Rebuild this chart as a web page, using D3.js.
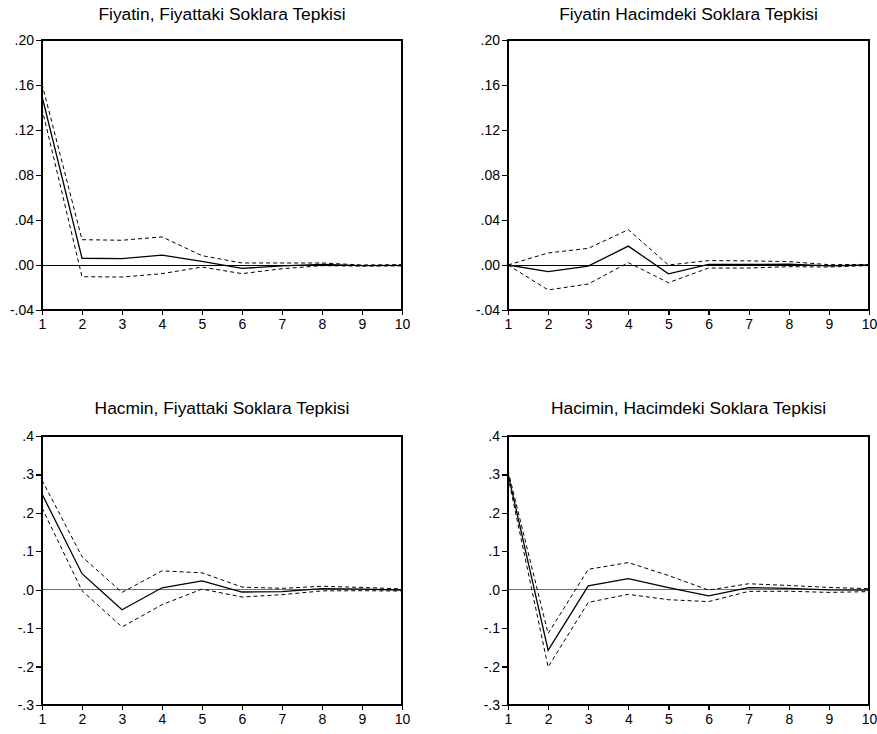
<!DOCTYPE html>
<html>
<head>
<meta charset="utf-8">
<script src="https://cdn.jsdelivr.net/npm/d3@7/dist/d3.min.js"></script>
<style>
  html, body { margin: 0; padding: 0; background: #fff; }
  svg { display: block; }
  text { font-family: "Liberation Sans", Arial, Helvetica, sans-serif; fill: #000; }
</style>
</head>
<body>
<svg id="chart" width="877" height="734"></svg>
<script>
// Impulse response periods
const periods = [1, 2, 3, 4, 5, 6, 7, 8, 9, 10];

// Panel titles
const titles = [
  "Fiyatin, Fiyattaki Soklara Tepkisi",
  "Fiyatin Hacimdeki Soklara Tepkisi",
  "Hacmin, Fiyattaki Soklara Tepkisi",
  "Hacimin, Hacimdeki Soklara Tepkisi"
];

// Price response to price shocks: response, upper and lower bands
const p1Resp  = [0.150, 0.0060, 0.0057, 0.0087, 0.0033, -0.0030, -0.0008, 0.0006, -0.0005, -0.0003];
const p1Upper = [0.161, 0.0225, 0.0220, 0.0250, 0.0083, 0.0018, 0.0018, 0.0018, 0.0000, 0.0003];
const p1Lower = [0.139, -0.0104, -0.0107, -0.0077, -0.0018, -0.0077, -0.0033, -0.0006, -0.0010, -0.0008];

// Price response to volume shocks
const p2Resp  = [0, -0.0058, -0.0010, 0.0168, -0.0079, 0.0006, 0.0005, 0.0008, -0.0008, 0.0000];
const p2Upper = [0, 0.0107, 0.0148, 0.0314, 0.0000, 0.0039, 0.0037, 0.0030, 0.0003, 0.0005];
const p2Lower = [0, -0.0222, -0.0169, 0.0021, -0.0157, -0.0027, -0.0027, -0.0015, -0.0018, -0.0005];

// Volume response to price shocks
const p3Resp  = [0.249, 0.0417, -0.0520, 0.0050, 0.0230, -0.0060, -0.0048, 0.0030, 0.0017, -0.0008];
const p3Upper = [0.285, 0.0860, -0.0070, 0.0490, 0.0440, 0.0070, 0.0035, 0.0090, 0.0060, 0.0020];
const p3Lower = [0.213, -0.0026, -0.0970, -0.0390, 0.0017, -0.0190, -0.0130, -0.0030, -0.0026, -0.0035];

// Volume response to volume shocks
const p4Resp  = [0.302, -0.1575, 0.0100, 0.0290, 0.0055, -0.0160, 0.0056, 0.0035, -0.0005, -0.0012];
const p4Upper = [0.310, -0.1140, 0.0530, 0.0707, 0.0370, -0.0010, 0.0155, 0.0110, 0.0060, 0.0026];
const p4Lower = [0.294, -0.2010, -0.0330, -0.0120, -0.0260, -0.0310, -0.0043, -0.0040, -0.0070, -0.0050];

// Y tick values and their printed labels
const yTicksPrice  = [-0.04, 0.00, 0.04, 0.08, 0.12, 0.16, 0.20];
const yLabelsPrice = ["-.04", ".00", ".04", ".08", ".12", ".16", ".20"];
const yTicksVol    = [-0.3, -0.2, -0.1, 0.0, 0.1, 0.2, 0.3, 0.4];
const yLabelsVol   = ["-.3", "-.2", "-.1", ".0", ".1", ".2", ".3", ".4"];

const svg = d3.select("#chart");

const panels = [
  { title: titles[0], resp: p1Resp, up: p1Upper, lo: p1Lower, x0: 42,  x1: 402, y0: 40,  y1: 310, dom: [-0.04, 0.20], ticks: yTicksPrice, labels: yLabelsPrice, titleY: 20,  zero: "#000" },
  { title: titles[1], resp: p2Resp, up: p2Upper, lo: p2Lower, x0: 508, x1: 869, y0: 40,  y1: 310, dom: [-0.04, 0.20], ticks: yTicksPrice, labels: yLabelsPrice, titleY: 20,  zero: "#000" },
  { title: titles[2], resp: p3Resp, up: p3Upper, lo: p3Lower, x0: 42,  x1: 402, y0: 436, y1: 705, dom: [-0.3, 0.4],   ticks: yTicksVol,   labels: yLabelsVol,   titleY: 414, zero: "#707070" },
  { title: titles[3], resp: p4Resp, up: p4Upper, lo: p4Lower, x0: 508, x1: 869, y0: 436, y1: 705, dom: [-0.3, 0.4],   ticks: yTicksVol,   labels: yLabelsVol,   titleY: 414, zero: "#707070" }
];

panels.forEach(p => {
  const g = svg.append("g");
  const x = d3.scaleLinear().domain([1, 10]).range([p.x0, p.x1]);
  const y = d3.scaleLinear().domain(p.dom).range([p.y1, p.y0]);

  // title
  g.append("text")
    .attr("x", (p.x0 + p.x1) / 2)
    .attr("y", p.titleY)
    .attr("text-anchor", "middle")
    .style("font-size", "17.4px")
    .text(p.title);

  // zero reference line
  g.append("line")
    .attr("x1", p.x0).attr("x2", p.x1)
    .attr("y1", y(0)).attr("y2", y(0))
    .attr("stroke", p.zero).attr("stroke-width", 1)
    .attr("shape-rendering", "crispEdges");

  const line = d3.line()
    .x((d, i) => x(periods[i]))
    .y(d => y(d));

  // confidence bands
  [p.up, p.lo].forEach(band => {
    g.append("path")
      .attr("d", line(band))
      .attr("fill", "none")
      .attr("stroke", "#000")
      .attr("stroke-width", 1)
      .attr("stroke-dasharray", "4,3");
  });

  // impulse response
  g.append("path")
    .attr("d", line(p.resp))
    .attr("fill", "none")
    .attr("stroke", "#000")
    .attr("stroke-width", 1.3);

  // left axis
  const yAxis = d3.axisLeft(y)
    .tickValues(p.ticks)
    .tickSize(6)
    .tickPadding(2)
    .tickFormat((d, i) => p.labels[i]);
  const ya = g.append("g").attr("transform", `translate(${p.x0},0)`).call(yAxis);
  ya.select(".domain").remove();
  ya.selectAll("text").style("font-size", "14px").attr("fill", "#000");
  ya.selectAll("line").attr("stroke", "#000").attr("stroke-width", 1.2)
    .attr("shape-rendering", "crispEdges");

  // bottom axis
  const xAxis = d3.axisBottom(x)
    .tickValues(periods)
    .tickSize(5)
    .tickPadding(4)
    .tickFormat(d3.format("d"));
  const xa = g.append("g").attr("transform", `translate(0,${p.y1})`).call(xAxis);
  xa.select(".domain").remove();
  xa.selectAll("text").style("font-size", "14px").attr("fill", "#000");
  xa.selectAll("line").attr("stroke", "#000").attr("stroke-width", 1.2)
    .attr("shape-rendering", "crispEdges");

  // frame
  g.append("rect")
    .attr("x", p.x0).attr("y", p.y0)
    .attr("width", p.x1 - p.x0).attr("height", p.y1 - p.y0)
    .attr("fill", "none")
    .attr("stroke", "#000")
    .attr("stroke-width", 2)
    .attr("shape-rendering", "crispEdges");
});
</script>
</body>
</html>
